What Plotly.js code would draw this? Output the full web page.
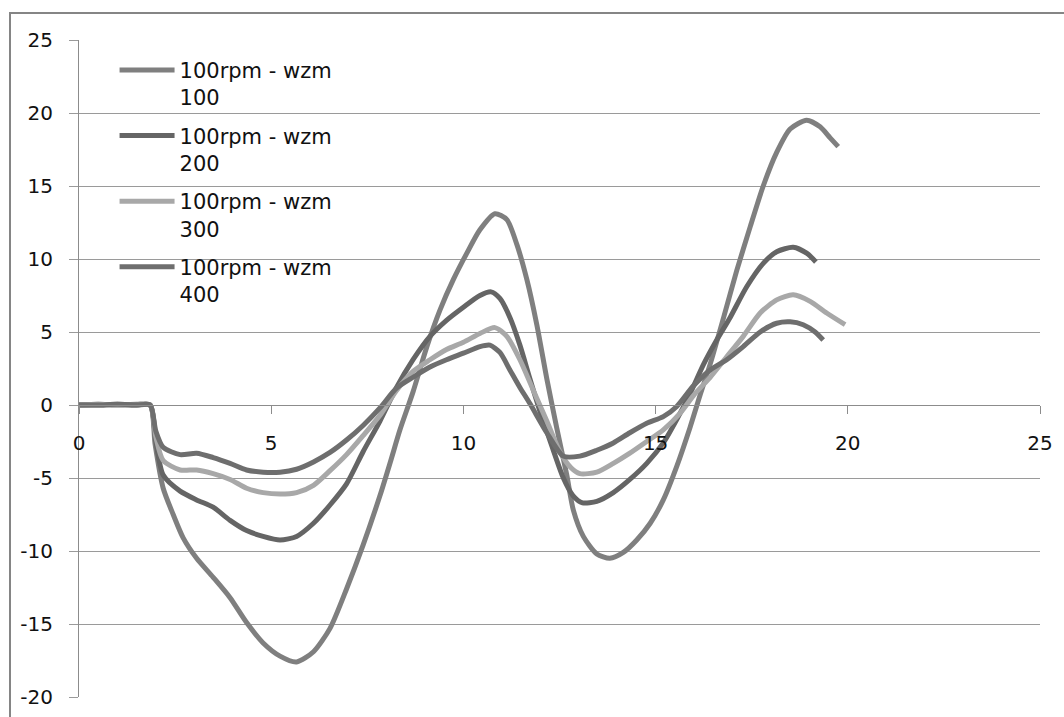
<!DOCTYPE html>
<html>
<head>
<meta charset="utf-8">
<script src="https://cdn.plot.ly/plotly-3.0.1.min.js"></script>
<style>html,body{margin:0;padding:0;background:#fff;}#chart{width:1064px;height:717px;}</style>
</head>
<body>
<div id="chart"></div>
<script>
// Series names
const seriesNames = ["100rpm - wzm<br>100", "100rpm - wzm<br>200", "100rpm - wzm<br>300", "100rpm - wzm<br>400"];

// wzm 100
const t100 = [0, 0.5, 1.0, 1.5, 1.85, 1.98, 2.19, 2.45, 2.71, 3.06, 3.49, 3.93, 4.36, 4.79, 5.23, 5.66, 6.1, 6.53, 6.96, 7.39, 7.83, 8.1, 8.35, 8.69, 9.05, 9.39, 9.74, 10.09, 10.43, 10.82, 11.13, 11.39, 11.65, 11.91, 12.17, 12.43, 12.69, 12.86, 13.12, 13.47, 13.81, 14.16, 14.51, 14.86, 15.2, 15.55, 15.9, 16.16, 16.42, 16.77, 17.11, 17.46, 17.8, 18.15, 18.5, 18.93, 19.28, 19.54, 19.75];
const v100 = [0, 0.05, 0, 0.05, 0, -2.7, -5.7, -7.5, -9.1, -10.5, -11.8, -13.2, -14.9, -16.3, -17.2, -17.6, -16.9, -15.3, -12.6, -9.6, -6.2, -3.9, -1.7, 0.9, 4.0, 6.5, 8.6, 10.4, 12.0, 13.1, 12.7, 11.0, 8.6, 5.5, 1.8, -1.6, -4.8, -7.2, -9.0, -10.2, -10.5, -10.1, -9.25, -8.1, -6.5, -4.2, -1.5, 0.7, 2.8, 6.0, 9.2, 12.2, 15.0, 17.3, 18.9, 19.5, 19.05, 18.3, 17.7];

// wzm 200
const t200 = [0, 0.5, 1.0, 1.5, 1.85, 2.0, 2.19, 2.63, 3.06, 3.49, 3.93, 4.36, 4.79, 5.23, 5.66, 6.1, 6.53, 6.96, 7.39, 7.83, 8.26, 8.69, 9.13, 9.56, 10.0, 10.43, 10.72, 10.95, 11.21, 11.47, 11.73, 12.0, 12.3, 12.6, 12.85, 13.1, 13.47, 13.9, 14.33, 14.77, 15.2, 15.55, 15.9, 16.25, 16.59, 16.94, 17.37, 17.8, 18.15, 18.58, 18.93, 19.17];
const v200 = [0, 0, 0.05, 0, 0, -2.5, -4.8, -5.9, -6.5, -7.0, -7.9, -8.6, -9.0, -9.25, -9.0, -8.1, -6.85, -5.4, -3.2, -1.1, 1.2, 3.1, 4.7, 5.8, 6.7, 7.5, 7.75, 7.3, 6.0, 4.1, 1.8, -0.5, -2.8, -5.0, -6.2, -6.7, -6.6, -6.0, -5.1, -4.0, -2.6, -1.0, 0.8, 2.8, 4.45, 6.0, 8.1, 9.7, 10.5, 10.8, 10.4, 9.8];

// wzm 300
const t300 = [0, 0.5, 1.0, 1.5, 1.85, 2.0, 2.19, 2.63, 3.06, 3.49, 3.93, 4.36, 4.79, 5.23, 5.66, 6.1, 6.53, 6.96, 7.39, 7.83, 8.26, 8.69, 9.13, 9.56, 10.0, 10.43, 10.82, 11.13, 11.47, 11.82, 12.17, 12.51, 12.8, 13.03, 13.47, 13.9, 14.33, 14.77, 15.2, 15.64, 16.0, 16.42, 16.85, 17.28, 17.72, 18.15, 18.58, 19.02, 19.45, 19.93];
const v300 = [0, 0.05, 0, 0, 0, -2.2, -3.8, -4.45, -4.45, -4.7, -5.1, -5.7, -6.0, -6.1, -6.0, -5.5, -4.5, -3.4, -2.1, -0.7, 1.0, 2.3, 3.1, 3.8, 4.3, 4.9, 5.3, 4.7, 3.1, 1.0, -1.1, -3.2, -4.3, -4.7, -4.6, -4.0, -3.3, -2.5, -1.7, -0.55, 0.7, 1.9, 3.3, 4.7, 6.3, 7.2, 7.55, 7.1, 6.3, 5.5];

// wzm 400
const t400 = [0, 0.5, 1.0, 1.5, 1.85, 2.0, 2.19, 2.63, 3.06, 3.49, 3.93, 4.36, 4.79, 5.23, 5.66, 6.1, 6.53, 6.96, 7.39, 7.83, 8.26, 8.69, 9.13, 9.56, 10.0, 10.43, 10.69, 10.95, 11.21, 11.47, 11.73, 12.17, 12.6, 13.03, 13.47, 13.9, 14.33, 14.77, 15.2, 15.55, 15.98, 16.42, 16.85, 17.28, 17.72, 18.15, 18.5, 18.84, 19.15, 19.36];
const v400 = [0, 0, 0.05, 0, 0, -1.8, -2.9, -3.4, -3.3, -3.6, -4.0, -4.45, -4.6, -4.6, -4.4, -3.9, -3.25, -2.4, -1.4, -0.2, 1.15, 1.9, 2.6, 3.1, 3.55, 4.0, 4.1, 3.6, 2.4, 1.2, 0.1, -1.9, -3.5, -3.5, -3.1, -2.6, -1.9, -1.25, -0.8, -0.1, 1.3, 2.4, 3.1, 4.0, 5.0, 5.6, 5.7, 5.5, 5.0, 4.45];

// Axis ticks
const xTicks = [0, 5, 10, 15, 20, 25];
const yTicks = [-20, -15, -10, -5, 0, 5, 10, 15, 20, 25];

const colors = ["#7f7f7f", "#656565", "#a8a8a8", "#6e6e6e"];
const xs = [t100, t200, t300, t400];
const ys = [v100, v200, v300, v400];

const traces = xs.map((x, i) => ({
  x: x, y: ys[i], type: "scatter", mode: "lines",
  name: seriesNames[i], legendgroup: "g" + i,
  line: {color: colors[i], width: 5, shape: "spline", smoothing: 0.7}
}));

const FONT = "DejaVu Sans, sans-serif";
const layout = {
  width: 1064, height: 717,
  margin: {l: 79, r: 24, t: 40, b: 20},
  paper_bgcolor: "#ffffff", plot_bgcolor: "#ffffff",
  showlegend: true,
  font: {family: FONT, size: 20, color: "#111111"},
  xaxis: {
    range: [0, 25], tickvals: xTicks, ticktext: xTicks.map(String),
    anchor: "free", position: 20/45,
    showgrid: false, zeroline: false,
    showline: true, linecolor: "#8c8c8c", linewidth: 1,
    ticks: "outside", ticklen: 8, tickcolor: "#8c8c8c",
    ticklabelstandoff: 12,
    tickfont: {family: FONT, size: 20, color: "#111111"}
  },
  yaxis: {
    range: [-20, 25], tickvals: yTicks, ticktext: yTicks.map(String),
    showgrid: true, gridcolor: "#9a9a9a", gridwidth: 1, zeroline: false,
    showline: true, linecolor: "#8c8c8c", linewidth: 1,
    ticks: "outside", ticklen: 9, tickcolor: "#9a9a9a",
    ticklabelstandoff: 12,
    tickfont: {family: FONT, size: 20, color: "#111111"}
  },
  legend: {
    x: 0.037, y: 0.985, xanchor: "left", yanchor: "top",
    bgcolor: "rgba(0,0,0,0)", borderwidth: 0,
    font: {family: FONT, size: 21, color: "#111111"},
    itemwidth: 55, valign: "top", traceorder: "grouped", tracegroupgap: 8
  },
  shapes: [{
    type: "rect", xref: "paper", yref: "paper",
    x0: (10 - 79) / 961, x1: 1.2, y0: -0.2, y1: (697 - 13) / 657,
    line: {color: "#858585", width: 2}, fillcolor: "rgba(0,0,0,0)", layer: "below"
  }]
};

Plotly.newPlot("chart", traces, layout, {staticPlot: true, displayModeBar: false});
</script>
</body>
</html>
